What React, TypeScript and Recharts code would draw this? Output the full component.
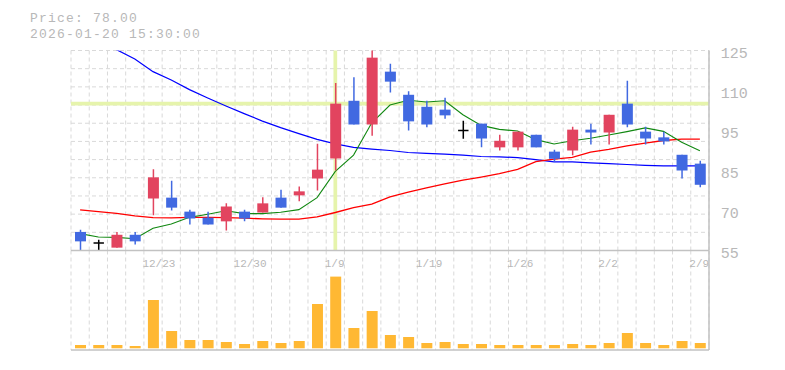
import React from "react";
import {
  ComposedChart,
  Bar,
  Line,
  XAxis,
  YAxis,
  CartesianGrid,
  ReferenceLine,
} from "recharts";

const dates = [
  "12/17", "12/18", "12/19", "12/22", "12/23", "12/24", "12/25", "12/26", "12/29", "12/30",
  "1/5", "1/6", "1/7", "1/8", "1/9", "1/13", "1/14", "1/15", "1/16", "1/19",
  "1/20", "1/21", "1/22", "1/23", "1/26", "1/27", "1/28", "1/29", "1/30", "2/2",
  "2/3", "2/4", "2/5", "2/6", "2/9",
];
const labelDates = ["12/23", "12/30", "1/9", "1/19", "1/26", "2/2", "2/9"];

const opens = [61.5, 57.6, 56.0, 60.5, 73.2, 73.5, 68.6, 66.5, 65.2, 68.6, 68.3, 73.5, 74.3, 80.2, 87.2, 107.4, 99.1, 117.6, 109.5, 105.3, 104.3, 97.0, 99.4, 91.1, 91.1, 95.5, 89.6, 90.0, 97.3, 96.3, 106.4, 96.6, 94.6, 88.5, 85.4];
const highs = [62.3, 58.8, 61.5, 61.5, 83.4, 79.4, 69.3, 68.6, 71.5, 69.3, 73.6, 76.3, 77.4, 92.4, 113.6, 115.6, 125.4, 120.4, 110.7, 107.4, 108.5, 100.4, 99.4, 95.5, 96.6, 95.5, 90.3, 98.3, 99.4, 102.5, 114.4, 98.3, 96.6, 88.5, 86.4];
const lows = [55.0, 55.0, 56.0, 57.1, 67.3, 69.0, 64.1, 64.1, 62.0, 65.2, 68.3, 70.0, 72.2, 76.0, 83.0, 99.1, 95.2, 110.3, 97.0, 98.1, 101.1, 94.1, 91.1, 90.0, 90.0, 91.1, 86.1, 88.3, 92.1, 92.1, 98.1, 92.1, 92.1, 80.2, 77.1];
const closes = [58.2, 57.6, 60.5, 58.2, 80.6, 70.0, 66.2, 64.1, 70.4, 66.2, 71.5, 70.0, 75.7, 83.3, 106.4, 99.1, 122.5, 114.1, 100.2, 99.1, 102.3, 97.0, 94.2, 93.4, 96.6, 91.1, 87.1, 97.3, 96.3, 102.5, 99.1, 94.2, 93.2, 83.0, 78.0];

const ma5 = [60.9, 59.7, 59.6, 59.1, 62.8, 64.3, 66.6, 67.7, 68.9, 67.9, 67.9, 68.4, 69.3, 73.5, 82.7, 88.4, 99.7, 105.9, 107.6, 107.0, 107.4, 102.5, 98.8, 97.4, 96.8, 93.8, 92.3, 93.4, 94.3, 95.4, 96.6, 97.9, 96.7, 92.9, 89.9];
const ma25 = [69.2, 68.6, 68.0, 67.1, 66.5, 66.4, 66.6, 66.6, 66.5, 66.3, 66.1, 66.0, 66.0, 66.8, 68.3, 70.0, 71.2, 73.8, 75.4, 76.9, 78.3, 79.6, 80.7, 81.9, 83.4, 86.1, 87.0, 87.6, 89.4, 90.4, 91.6, 92.6, 93.5, 94.0, 94.0];
const ma75 = [131.9, 128.8, 125.3, 122.0, 117.6, 114.7, 111.3, 108.4, 105.6, 102.9, 100.3, 98.0, 95.9, 93.9, 92.3, 91.1, 90.5, 90.0, 89.3, 89.0, 88.7, 88.4, 87.9, 87.8, 87.5, 86.8, 86.0, 86.0, 85.7, 85.4, 85.1, 84.8, 84.6, 84.6, 84.6];

const volumes = [33, 33, 33, 23, 483, 173, 83, 83, 63, 43, 73, 53, 73, 443, 717, 203, 373, 133, 113, 53, 63, 43, 43, 33, 33, 33, 33, 43, 33, 53, 153, 53, 33, 73, 53];

const yTickValues = [55, 69, 83, 97, 111, 125];
const yTickLabels = ["55", "70", "85", "95", "110", "125"];

const titlePrice = "Price: 78.00";
const titleTime = "2026-01-20 15:30:00";
const crossIndex = 14;

const RED = "#E2445F";
const BLUE = "#4169E1";
const CROSS = "#E6F4AC";
const GRID = "#d9d9d9";
const AXIS = "#c2c2c2";
const TEXT = "#b8b8b8";
const FONT = "'Liberation Mono', monospace";

const rows = dates.map((d, i) => ({
  date: d,
  open: opens[i],
  high: highs[i],
  low: lows[i],
  close: closes[i],
  range: [lows[i], highs[i]],
  ma5: ma5[i],
  ma25: ma25[i],
  ma75: ma75[i],
  volume: volumes[i],
}));

const N = dates.length;

const vGen = ({ offset }: any) =>
  Array.from({ length: N + 1 }, (_, i) => offset.left + (i * offset.width) / N);
const hGen = ({ offset }: any) =>
  Array.from({ length: 12 }, (_, i) => offset.top + (i * offset.height) / 11);

const Candle = (props: any) => {
  const { x, y, width, height, payload } = props;
  if (x == null || y == null) return null;
  const { open, close, high, low } = payload;
  const span = high - low;
  const ratio = span > 0 ? height / span : 0;
  const yOf = (v: number) => y + (high - v) * ratio;
  const cx = x + width / 2;
  if (open === close) {
    const yy = yOf(open);
    return (
      <g>
        <line x1={cx} x2={cx} y1={y} y2={y + height} stroke="#000" strokeWidth={1.5} />
        <line x1={cx - 5.2} x2={cx + 5.2} y1={yy} y2={yy} stroke="#000" strokeWidth={1.5} />
      </g>
    );
  }
  const color = close > open ? RED : BLUE;
  const top = yOf(Math.max(open, close));
  const bot = yOf(Math.min(open, close));
  return (
    <g>
      <line x1={cx} x2={cx} y1={y} y2={y + height} stroke={color} strokeWidth={1.5} />
      <rect x={x} y={top} width={width} height={Math.max(bot - top, 1)} fill={color} />
    </g>
  );
};

const XTick = (props: any) => {
  const { x, y, payload } = props;
  if (!labelDates.includes(payload.value)) return null;
  return (
    <text x={x - 10.6} y={y + 16} fontFamily={FONT} fontSize={11} fill={TEXT}>
      {payload.value}
    </text>
  );
};

const YTick = (props: any) => {
  const { x, y, payload } = props;
  const idx = yTickValues.indexOf(payload.value);
  return (
    <text x={x + 11.7} y={y + 7.8} fontFamily={FONT} fontSize={15} fill={TEXT}>
      {yTickLabels[idx]}
    </text>
  );
};

export default function App() {
  return (
    <div style={{ position: "absolute", left: 0, top: 0, width: 785, height: 370, background: "#fff" }}>
      <div style={{ position: "absolute", left: 0, top: 0 }}>
        <ComposedChart
          width={785}
          height={370}
          data={rows}
          margin={{ top: 250.5, right: 0, left: 71, bottom: 19 }}
        >
          <CartesianGrid horizontal={false} stroke={GRID} strokeDasharray="4 3" verticalCoordinatesGenerator={vGen} />
          <XAxis dataKey="date" tick={false} tickLine={false} axisLine={{ stroke: AXIS, strokeWidth: 1.5 }} height={1} />
          <YAxis orientation="right" width={76} domain={[-17, 978]} tick={false} tickLine={false} axisLine={{ stroke: AXIS, strokeWidth: 1.5 }} />
          <Bar dataKey="volume" fill="#FFB833" barSize={11} isAnimationActive={false} />
        </ComposedChart>
      </div>
      <div style={{ position: "absolute", left: 0, top: 0 }}>
        <ComposedChart
          width={785}
          height={272}
          data={rows}
          margin={{ top: 50.5, right: 0, left: 71, bottom: 0 }}
        >
          <CartesianGrid
            stroke={GRID}
            strokeDasharray="4 3"
            verticalCoordinatesGenerator={vGen}
            horizontalCoordinatesGenerator={hGen}
          />
          <XAxis
            dataKey="date"
            interval={0}
            tickLine={false}
            tickSize={0}
            tickMargin={0}
            axisLine={{ stroke: AXIS, strokeWidth: 1.5 }}
            height={21.5}
            tick={XTick}
          />
          <YAxis
            orientation="right"
            width={76}
            domain={[55, 125]}
            allowDataOverflow
            ticks={yTickValues}
            interval={0}
            tick={YTick}
            tickLine={false}
            tickSize={0}
            tickMargin={0}
            axisLine={{ stroke: AXIS, strokeWidth: 1.5 }}
          />
          <ReferenceLine x={dates[crossIndex]} stroke={CROSS} strokeWidth={3.7} zIndex={50} />
          <ReferenceLine y={closes[crossIndex]} stroke={CROSS} strokeWidth={3.7} zIndex={50} />
          <Line dataKey="ma75" stroke="#0000ff" strokeWidth={1.2} dot={false} activeDot={false} isAnimationActive={false} />
          <Line dataKey="ma25" stroke="#ff0000" strokeWidth={1.3} dot={false} activeDot={false} isAnimationActive={false} />
          <Line dataKey="ma5" stroke="#118811" strokeWidth={1.1} dot={false} activeDot={false} isAnimationActive={false} />
          <Bar dataKey="range" barSize={11} shape={Candle} isAnimationActive={false} zIndex={450} />
        </ComposedChart>
      </div>
      <svg width={785} height={50} style={{ position: "absolute", left: 0, top: 0, pointerEvents: "none" }}>
        <text x={30} y={22.3} fontFamily={FONT} fontSize={13} letterSpacing={1.2} fill={TEXT}>
          {titlePrice}
        </text>
        <text x={30} y={37.6} fontFamily={FONT} fontSize={13} letterSpacing={1.2} fill={TEXT}>
          {titleTime}
        </text>
      </svg>
    </div>
  );
}
